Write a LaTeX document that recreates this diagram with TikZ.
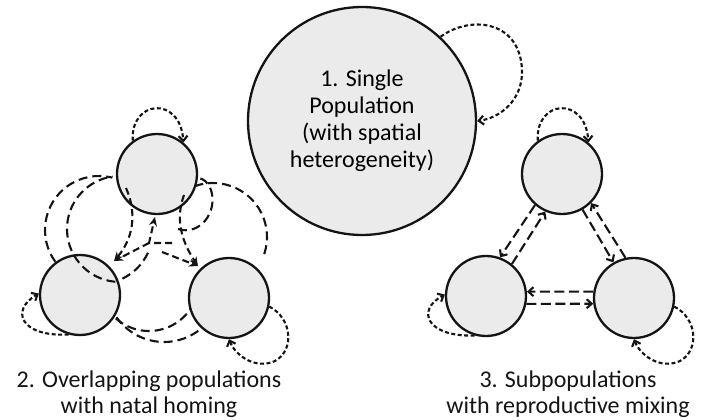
\documentclass[tikz,border=0pt]{standalone}
\usepackage{fontspec}
\setmainfont{Carlito}
\usetikzlibrary{arrows.meta,calc}
\definecolor{popfill}{RGB}{235,235,235}
\definecolor{ink}{RGB}{20,20,20}
\tikzset{%
	pop/.style       = {draw=ink, line width=2.3pt, fill=popfill, circle, minimum size=80pt, inner sep=0pt},
	homeloop/.style  = {draw=ink, line width=2.1pt, dash pattern=on 4pt off 2.5pt, -{Straight Barb[length=5pt,width=9pt]}},
	homerange/.style = {draw=ink, line width=2.1pt, dash pattern=on 9pt off 5pt},
	homing/.style    = {draw=ink, line width=2.1pt, dash pattern=on 7pt off 4pt, -{Stealth[length=9pt,width=8pt]}},
	mixarrow/.style  = {draw=ink, line width=2.1pt, dash pattern=on 10pt off 4.5pt, -{Straight Barb[length=5pt,width=9pt]}},
	caption/.style   = {align=center, font=\fontsize{24}{26}\selectfont, text=ink},
}
\begin{document}
\begin{tikzpicture}[x=1pt,y=-1pt]
	\useasboundingbox (0,0) rectangle (705,420);
	% overlapping home ranges (under the populations)
	\draw[homerange] (99,230) ++(144:54) arc[start angle=144, end angle=284, radius=54];
	\draw[homerange] (213,237) ++(-110:54) arc[start angle=-110, end angle=23, radius=54];
	\draw[homerange] (149,281) ++(25:50) arc[start angle=25, end angle=140, radius=50];
	\draw[homerange] (164,284) ++(40:58) arc[start angle=40, end angle=145, radius=58];
	% 1. single population
	\node[pop, minimum size=228pt, align=center, font=\fontsize{24}{27}\selectfont] (big) at (362,121) {1. Single\\Population\\(with spatial\\heterogeneity)};
	\draw[homeloop] (big.47) .. controls (470,15) and (520,20) .. (522,70) .. controls (523,100) and (500,118) .. (big.east);
	% 2. overlapping populations
	\node[pop] (lT) at (157,174) {};
	\node[pop] (lBL) at (80,295) {};
	\node[pop] (lBR) at (229,298) {};
	\draw[homerange] (120,229) ++(95:53) arc[start angle=95, end angle=262, radius=53];
	\draw[homerange] (99,230) ++(25:54) arc[start angle=25, end angle=70, radius=54];
	\draw[homerange] (178,229) .. controls (200,236) and (218,212) .. (211,190) .. controls (208,182) and (203,178) .. (lT.-6);
	\coordinate (tl) at (126,188);
	\coordinate (tr) at (184,195);
	\coordinate (hub) at (149,243);
	\coordinate (hubR) at (172,243);
	\coordinate (hubB) at (162,252);
	\coordinate (blTip) at (114,261);
	\coordinate (brTip) at (198,266);
	\coordinate (tTip) at (155,217);
	\draw[homing] (tl) .. controls (138,215) and (132,240) .. (blTip);
	\draw[homing] (hub) -- (blTip);
	\draw[homing] (hubR) -- (hub) -- (tTip);
	\draw[homing] (tr) .. controls (174,222) and (184,245) .. (brTip);
	\draw[homing] (hubB) -- (brTip);
	\draw[homeloop] (lT.126) .. controls (130,100) and (180,95) .. (lT.50);
	\draw[homeloop] (lBL.254) .. controls (20,337) and (10,310) .. (lBL.178);
	\draw[homeloop] (lBR.-12) .. controls (292,318) and (295,350) .. (275,361) .. controls (255,370) and (235,355) .. (lBR.-90);
	\node[caption] (lcap) at (149,394) {2. Overlapping populations\\with natal homing};
	% 3. subpopulations
	\node[pop] (rT) at (562,174) {};
	\node[pop] (rBL) at (486,296) {};
	\node[pop] (rBR) at (634,298) {};
	\draw[mixarrow] (rT.229) -- (rBL.70);
	\draw[mixarrow] (rBL.51) -- (rT.246);
	\draw[mixarrow] (rT.300) -- (rBR.120);
	\draw[mixarrow] (rBR.102) -- (rT.315);
	\draw[mixarrow] (rBR.171) -- (rBL.6);
	\draw[mixarrow] (rBL.349) -- (rBR.188);
	\draw[homeloop] (rT.126) .. controls (535,100) and (585,95) .. (rT.50);
	\draw[homeloop] (rBL.254) .. controls (426,337) and (416,310) .. (rBL.178);
	\draw[homeloop] (rBR.-12) .. controls (697,318) and (700,350) .. (680,361) .. controls (660,370) and (640,355) .. (rBR.-90);
	\node[caption] (rcap) at (568,394) {3. Subpopulations\\with reproductive mixing};
\end{tikzpicture}
\end{document}
